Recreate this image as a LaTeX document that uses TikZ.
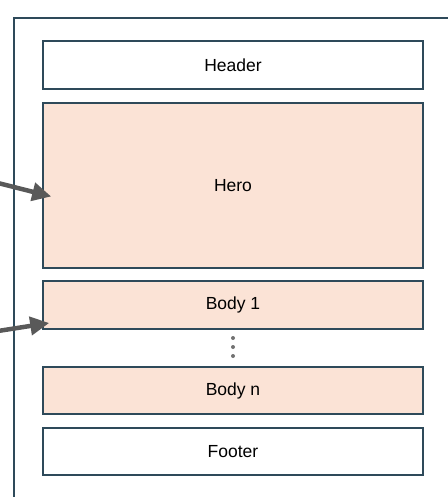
\documentclass[tikz,border=0pt]{standalone}
\usepackage{fontspec}
\setmainfont{Liberation Sans}
\usetikzlibrary{arrows.meta}
\definecolor{frameline}{HTML}{2E4A5A}
\definecolor{peach}{HTML}{FBE3D6}
\definecolor{arrowgray}{HTML}{595959}
\tikzset{
  section/.style={draw=frameline, line width=1.6pt, fill=white, minimum width=380pt, inner sep=0pt, font=\fontsize{17.5}{20}\selectfont},
  accent/.style={section, fill=peach},
  pointer/.style={draw=arrowgray, line width=4.5pt, -{Triangle[length=19pt,width=18pt]}},
  dotmark/.style={circle, fill=arrowgray!85, inner sep=0pt, minimum size=4pt}
}
\begin{document}
\begin{tikzpicture}[x=1pt,y=-1pt]
  \useasboundingbox (0,0) rectangle (447,497);
  % page outline, running off the right and bottom edges
  \draw[frameline, line width=1.6pt] (14,520) -- (14,18) -- (470,18);
  % page sections
  \node[section, minimum height=48pt] (header) at (233,65) {Header};
  \node[accent, minimum height=165pt] (hero) at (233,185.5) {Hero};
  \node[accent, minimum height=48pt] (body1) at (233,305) {Body 1};
  \node[dotmark] (d1) at (233,338) {};
  \node[dotmark] (d2) at (233,347) {};
  \node[dotmark] (d3) at (233,356) {};
  \node[accent, minimum height=47pt] (bodyn) at (233,390.5) {Body n};
  \node[section, minimum height=47pt] (footer) at (233,451.5) {Footer};
  % pointers coming in from the left
  \coordinate (p1) at (-2,183);
  \coordinate (p2) at (-2,331);
  \draw[pointer] (p1) -- ([xshift=9pt,yshift=-11pt]hero.west);
  \draw[pointer] (p2) -- ([xshift=7pt,yshift=-18pt]body1.west);
\end{tikzpicture}
\end{document}
